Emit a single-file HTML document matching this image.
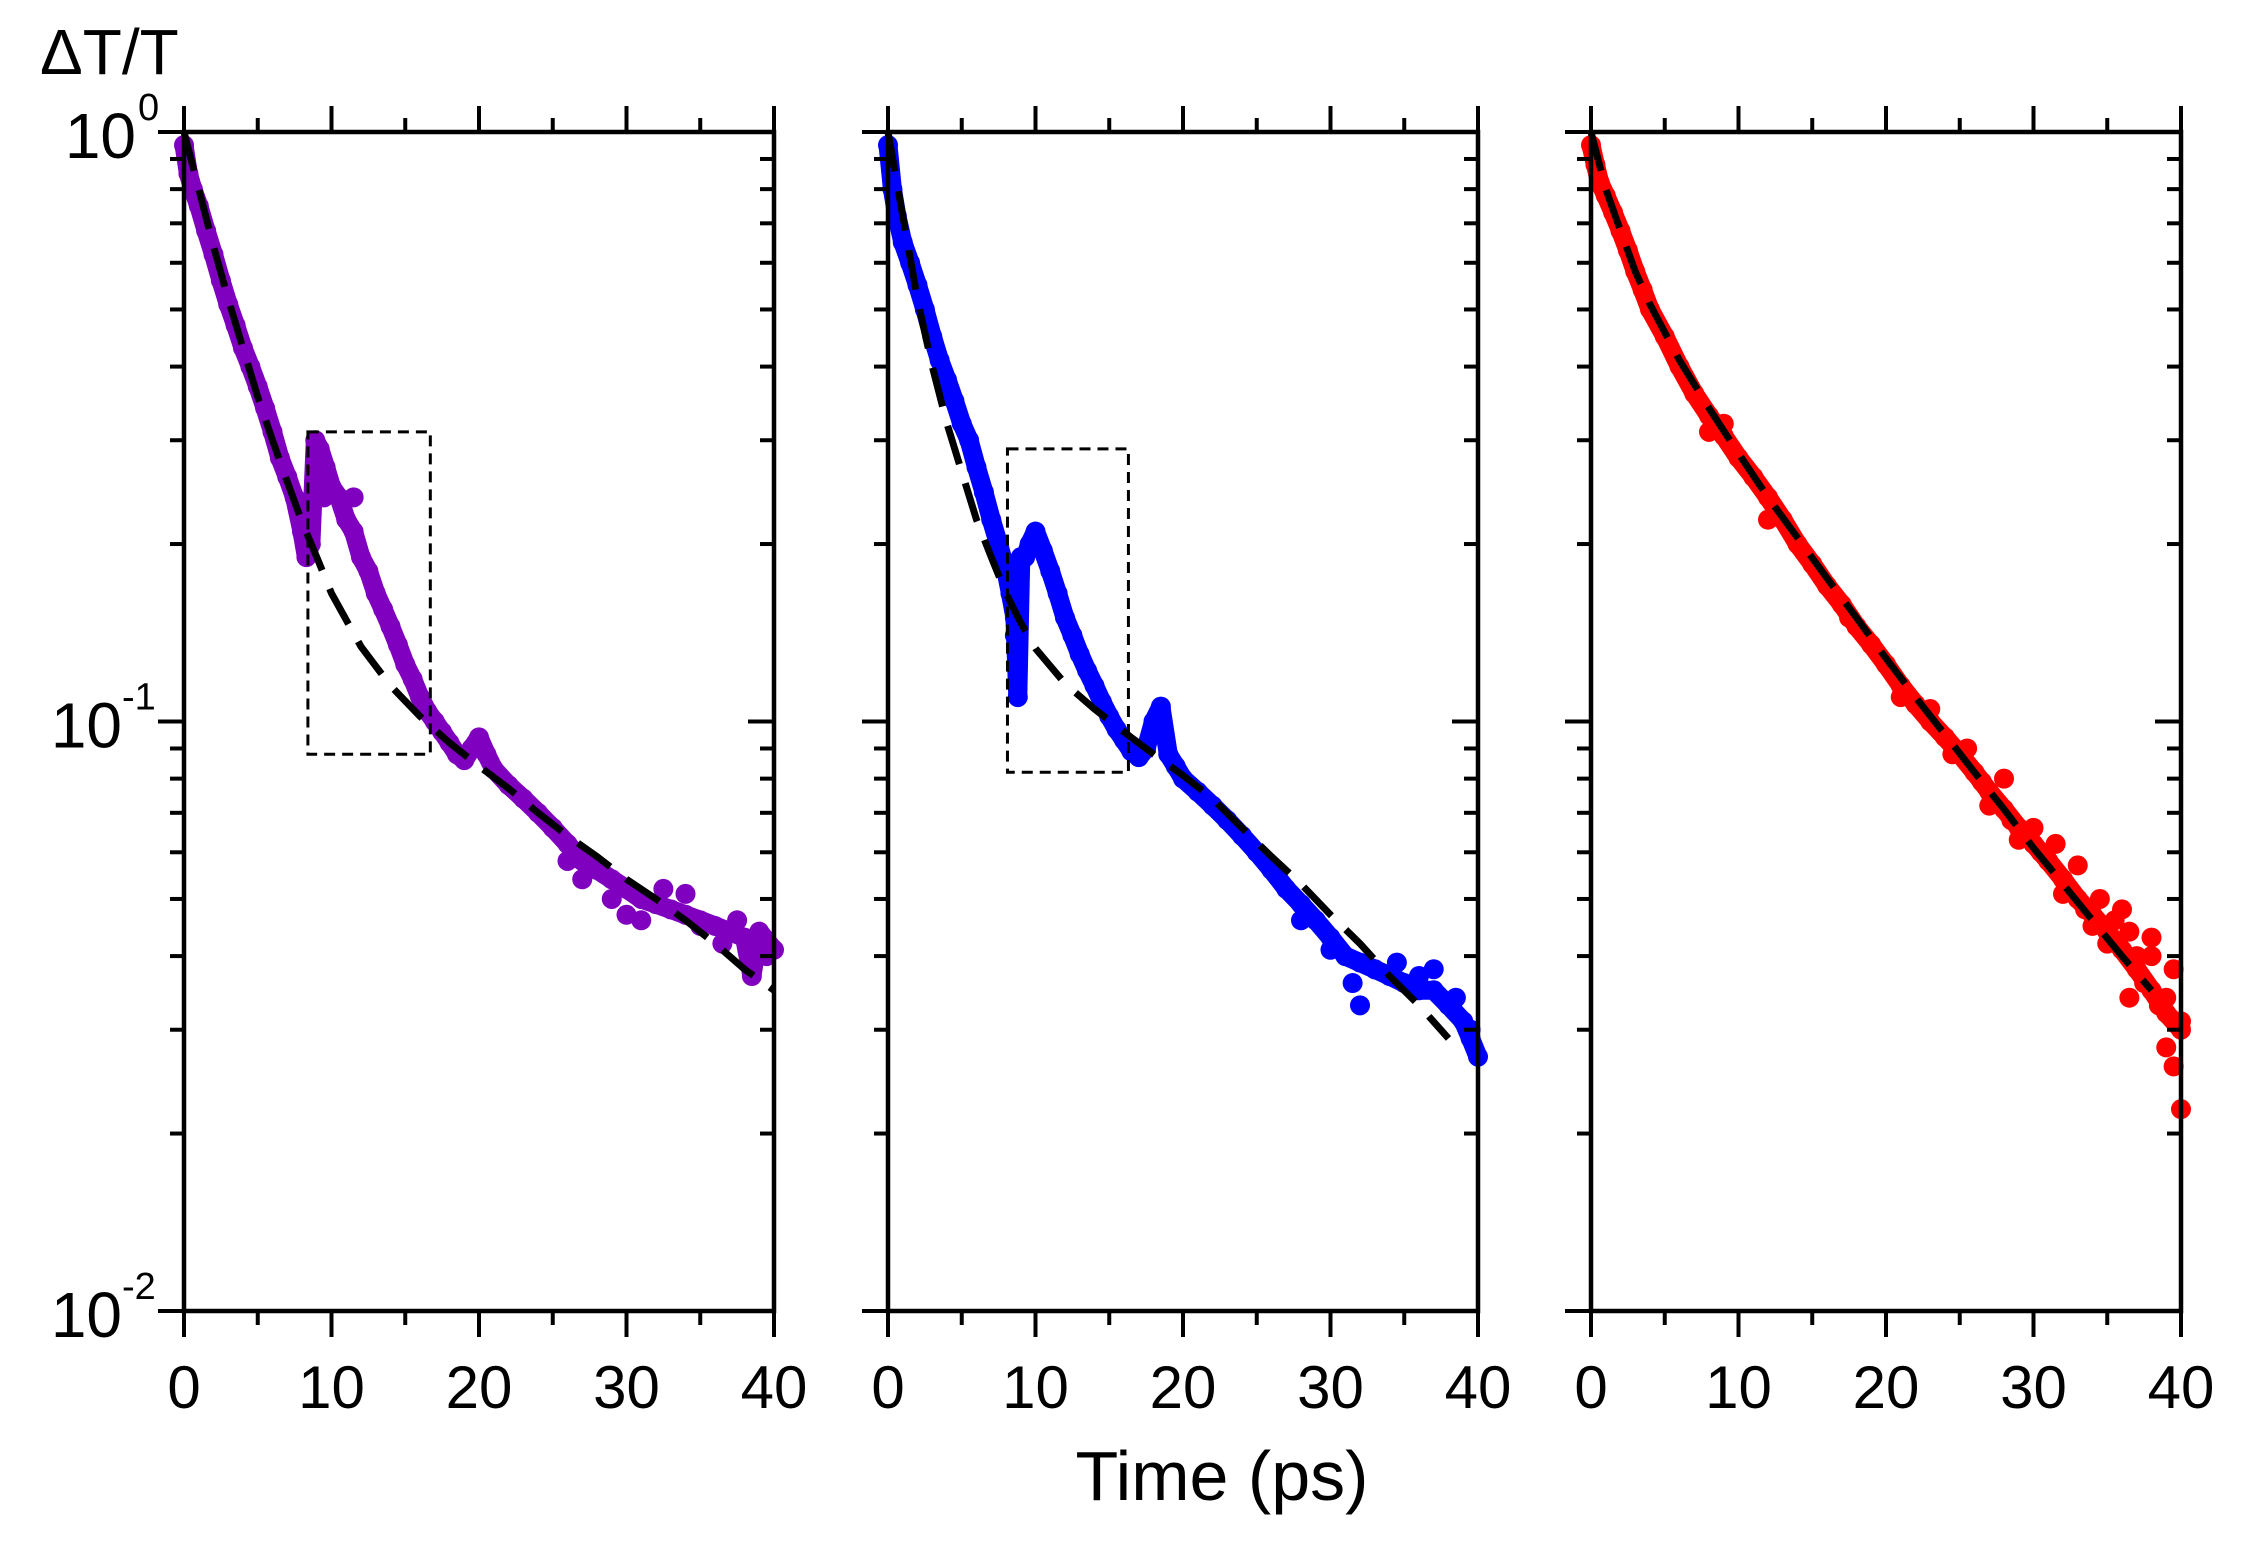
<!DOCTYPE html>
<html><head><meta charset="utf-8"><style>
html,body{margin:0;padding:0;background:#fff;}
svg{display:block;font-family:"Liberation Sans",Arial,sans-serif;}
</style></head><body>
<svg id="chart" width="2249" height="1557" viewBox="0 0 2249 1557" xmlns="http://www.w3.org/2000/svg">
<text x="40" y="74" font-size="64">ΔT/T</text>
<text x="1222" y="1500" font-size="70" text-anchor="middle">Time (ps)</text>
<g id="panels"></g>
</svg>
<script>
// x tick labels
const xTicks = [0, 10, 20, 30, 40];
const yDecades = [0, -1, -2];
// Panel 1 (purple)
const p1Times = [0,0.3,0.6,1,1.5,2,2.5,3,3.5,4,4.5,5,5.5,6,6.5,7,7.5,8,8.3,8.6,8.9,9.2,9.6,10,10.5,11,11.5,12,12.5,13,13.5,14,14.5,15,15.5,16,16.5,17,17.5,18,18.5,19,19.5,20,20.5,21,22,23,24,25,26,27,28,29,30,31,32,33,34,35,36,37,38,38.5,39,40];
const p1Values = [0.95,0.85,0.8,0.75,0.68,0.62,0.56,0.51,0.47,0.43,0.4,0.37,0.34,0.31,0.28,0.26,0.24,0.21,0.19,0.2,0.3,0.29,0.27,0.25,0.24,0.22,0.21,0.19,0.18,0.165,0.155,0.145,0.135,0.125,0.118,0.11,0.104,0.1,0.096,0.092,0.088,0.086,0.09,0.094,0.088,0.083,0.078,0.074,0.07,0.066,0.062,0.058,0.056,0.054,0.052,0.05,0.049,0.048,0.047,0.046,0.045,0.044,0.043,0.037,0.044,0.041];
const p1ScatterT = [9.5,11.5,27,29,31,32.5,34,35,36.5,37.5,39.5,26,30];
const p1ScatterV = [0.24,0.24,0.054,0.05,0.046,0.052,0.051,0.045,0.042,0.046,0.04,0.058,0.047];
const p1FitT = [0,1,2,3,4,5,6,7,8,9,10,12,14,16,18,20,22,24,26,28,30,32,34,36,38,40];
const p1FitV = [1.0,0.8,0.64,0.52,0.43,0.355,0.3,0.255,0.218,0.19,0.165,0.134,0.115,0.102,0.092,0.084,0.077,0.07,0.064,0.059,0.054,0.05,0.046,0.042,0.038,0.035];
// Panel 2 (blue)
const p2Times = [0,0.3,0.6,1,1.5,2,2.5,3,3.5,4,4.5,5,5.5,6,6.5,7,7.5,8,8.3,8.6,8.8,9,9.3,9.6,10,10.5,11,11.5,12,12.5,13,13.5,14,14.5,15,15.5,16,16.5,17,17.5,18,18.5,19,19.5,20,21,22,23,24,25,26,27,28,29,30,31,32,33,34,35,36,37,38,39,39.5,40];
const p2Values = [0.95,0.8,0.72,0.65,0.6,0.55,0.5,0.45,0.41,0.38,0.35,0.32,0.3,0.27,0.245,0.22,0.2,0.18,0.165,0.15,0.11,0.19,0.19,0.2,0.21,0.195,0.18,0.165,0.15,0.14,0.13,0.122,0.115,0.108,0.102,0.097,0.093,0.089,0.087,0.09,0.1,0.106,0.088,0.084,0.08,0.076,0.072,0.068,0.064,0.06,0.056,0.052,0.049,0.046,0.043,0.04,0.039,0.038,0.037,0.036,0.035,0.035,0.033,0.031,0.029,0.027];
const p2ScatterT = [8.6,28,30,31.5,33,34.5,36,37,38.5,39.5,32];
const p2ScatterV = [0.14,0.046,0.041,0.036,0.038,0.039,0.037,0.038,0.034,0.03,0.033];
const p2FitT = [0,1,2,3,4,5,6,7,8,9,10,12,14,16,18,20,22,24,26,28,30,32,34,36,38];
const p2FitV = [1.0,0.72,0.52,0.4,0.32,0.265,0.22,0.19,0.165,0.147,0.133,0.116,0.105,0.096,0.088,0.081,0.074,0.066,0.059,0.053,0.047,0.042,0.037,0.033,0.029];
// Panel 3 (red)
const p3Times = [0,0.3,0.6,1,1.5,2,2.5,3,3.5,4,5,6,7,8,9,10,11,12,13,14,15,16,17,18,19,20,21,22,23,24,25,26,27,28,29,30,31,32,33,34,35,36,37,38,39,40];
const p3Values = [0.95,0.88,0.82,0.78,0.73,0.68,0.63,0.58,0.54,0.5,0.45,0.4,0.36,0.33,0.305,0.28,0.26,0.24,0.22,0.2,0.185,0.17,0.158,0.145,0.135,0.125,0.115,0.107,0.1,0.094,0.088,0.082,0.076,0.071,0.066,0.062,0.058,0.054,0.05,0.047,0.044,0.041,0.038,0.035,0.032,0.03];
const p3ScatterT = [8,9,12,17.5,21,23,24.5,25.5,26.5,27,28,28.5,29,30,30.5,31,31.5,32,33,33.5,34,34.5,35,35.5,36,36.5,37,37.5,38,38.5,39,39,39.5,39.5,40,40,38,36.5];
const p3ScatterV = [0.31,0.32,0.22,0.15,0.11,0.105,0.088,0.09,0.079,0.072,0.08,0.068,0.063,0.066,0.06,0.058,0.062,0.051,0.057,0.048,0.045,0.05,0.042,0.046,0.048,0.044,0.04,0.036,0.043,0.033,0.028,0.034,0.026,0.038,0.022,0.031,0.04,0.034];
const p3FitT = [0,1,2,3,4,6,8,10,12,14,16,18,20,22,24,26,28,30,32,34,36,38];
const p3FitV = [1.0,0.8,0.68,0.58,0.51,0.41,0.34,0.285,0.24,0.205,0.175,0.15,0.128,0.11,0.095,0.082,0.071,0.061,0.053,0.046,0.04,0.035];

const panels = [
  {name:'purple', color:'#7f00bf', x0:184, times:p1Times, values:p1Values, st:p1ScatterT, sv:p1ScatterV, fitT:p1FitT, fitV:p1FitV, box:[8.4,16.7,0.31,0.088]},
  {name:'blue', color:'#0000ff', x0:888, times:p2Times, values:p2Values, st:p2ScatterT, sv:p2ScatterV, fitT:p2FitT, fitV:p2FitV, box:[8.1,16.3,0.29,0.082]},
  {name:'red', color:'#ff0000', x0:1591, times:p3Times, values:p3Values, st:p3ScatterT, sv:p3ScatterV, fitT:p3FitT, fitV:p3FitV, box:null}
];
const W = 590, yTop = 132, dec = 589.5;
const NS = 'http://www.w3.org/2000/svg';
const root = document.getElementById('panels');
function mk(tag, attrs, parent){const e=document.createElementNS(NS,tag);for(const k in attrs)e.setAttribute(k,attrs[k]);parent.appendChild(e);return e;}
function yOf(v){return yTop - Math.log10(v)*dec;}
panels.forEach((p, pi)=>{
  const xOf = t => p.x0 + t/40*W;
  const g = mk('g',{},root);
  
  
  let d = p.times.map((t,i)=>(i?'L':'M')+xOf(t).toFixed(1)+' '+yOf(p.values[i]).toFixed(1)).join(' ');
  const band = mk('path',{d:d,fill:'none',stroke:p.color,'stroke-width':19,'stroke-linejoin':'round','stroke-linecap':'round'},g);
  
  
  p.times.forEach((t,i)=>{
    const c = mk('circle',{cx:xOf(t),cy:yOf(p.values[i]),r:10,fill:p.color},g);
    
    
  });
  p.st.forEach((t,i)=>{
    const c = mk('circle',{cx:xOf(t),cy:yOf(p.sv[i]),r:10,fill:p.color},g);
    
    
  });
  let fd = p.fitT.map((t,i)=>(i?'L':'M')+xOf(t).toFixed(1)+' '+yOf(p.fitV[i]).toFixed(1)).join(' ');
  const fit = mk('path',{d:fd,fill:'none',stroke:'#000','stroke-width':7,'stroke-dasharray':'40 20'},g);
  
  
  if(p.box){
    const b = p.box;
    const r = mk('rect',{x:xOf(b[0]),y:yOf(b[2]),width:xOf(b[1])-xOf(b[0]),height:yOf(b[3])-yOf(b[2]),fill:'none',stroke:'#000','stroke-width':3,'stroke-dasharray':'11 7'},g);
    
    
  }
  const yBot = yOf(0.01);
  const fr = mk('rect',{x:p.x0,y:yTop,width:W,height:yBot-yTop,fill:'none',stroke:'#000','stroke-width':4.5},g);
  
  
  for(let t=0;t<=40;t+=5){
    const major = t%10===0, L = major?26:14;
    mk('line',{x1:xOf(t),x2:xOf(t),y1:yTop,y2:yTop-L,stroke:'#000','stroke-width':4},g);
    mk('line',{x1:xOf(t),x2:xOf(t),y1:yBot,y2:yBot+L,stroke:'#000','stroke-width':4},g);
  }
  xTicks.forEach(t=>{
    const tx = mk('text',{x:xOf(t),y:1408,'font-size':60,'text-anchor':'middle'},g);
    tx.textContent = t;
    
    
  });
  for(let e=-2;e<0;e++){
    for(let m=1;m<10;m++){
      const v = m*Math.pow(10,e), y = yOf(v), L = m===1?26:14;
      mk('line',{x1:p.x0-L,x2:p.x0,y1:y,y2:y,stroke:'#000','stroke-width':4},g);
      mk('line',{x1:p.x0+W-L,x2:p.x0+W,y1:y,y2:y,stroke:'#000','stroke-width':4},g);
    }
  }
  mk('line',{x1:p.x0-26,x2:p.x0,y1:yTop,y2:yTop,stroke:'#000','stroke-width':4},g);
  if(pi===0){
    yDecades.forEach(e=>{
      const y = yOf(Math.pow(10,e));
      const tx = mk('text',{x:e<0?122:136,y:y+26,'font-size':64,'text-anchor':'end'},g);
      tx.textContent = '10';
      
      
      const sp = mk('text',{x:e<0?122:138,y:y-12,'font-size':38,'text-anchor':'start'},g);
      sp.textContent = e;
      
      
    });
  }
});
</script>
</body></html>
